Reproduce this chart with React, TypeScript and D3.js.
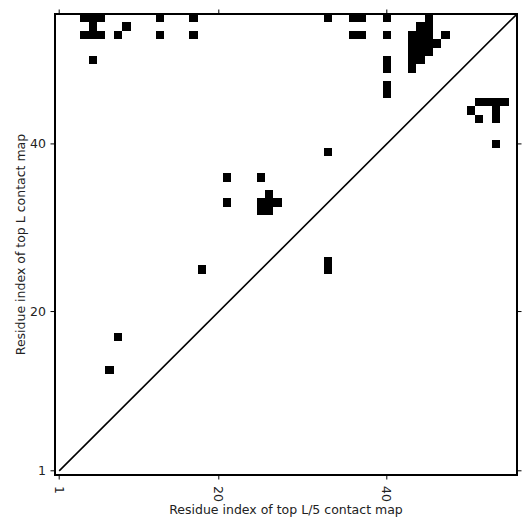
import React from "react";
import * as d3 from "d3";

// contacts as (x = residue on L/5 axis, y = residue on L axis)
const contactX = [
  4, 5, 6, 13, 17, 33, 36, 37, 40, 45,
  5, 9, 44, 45,
  4, 5, 6, 8, 13, 17, 36, 37, 40, 43, 44, 45, 47,
  43, 44, 45, 46,
  43, 44, 45,
  5, 40, 43, 44,
  40, 43,
  40, 40,
  51, 52, 53, 54,
  50, 53,
  51, 53,
  53, 33,
  21, 25, 26, 21, 25, 26, 27, 25, 26,
  18, 33, 33, 8, 7,
];
const contactY = [
  55, 55, 55, 55, 55, 55, 55, 55, 55, 55,
  54, 54, 54, 54,
  53, 53, 53, 53, 53, 53, 53, 53, 53, 53, 53, 53, 53,
  52, 52, 52, 52,
  51, 51, 51,
  50, 50, 50, 50,
  49, 49,
  47, 46,
  45, 45, 45, 45,
  44, 44,
  43, 43,
  40, 39,
  36, 36, 34, 33, 33, 33, 33, 32, 32,
  25, 26, 25, 17, 13,
];

const tickValues = [1, 20, 40];
const domain: [number, number] = [0.5, 55.5];
const diagonal: [number, number][] = [
  [1, 1],
  [56, 56],
];

const W = 531;
const H = 531;
const left = 55;
const right = 517;
const top = 14;
const bottom = 475;

export default function App() {
  const x = d3.scaleLinear().domain(domain).range([left, right]);
  const y = d3.scaleLinear().domain(domain).range([bottom, top]);
  const cw = Math.abs(x(1) - x(0));
  const ch = Math.abs(y(0) - y(1));
  const line = d3
    .line<[number, number]>()
    .x((d) => x(d[0]))
    .y((d) => y(d[1]));
  const font = "DejaVu Sans";
  const tickLen = 4.5;

  return (
    <svg
      width={W}
      height={H}
      style={{ position: "absolute", left: 0, top: 0, background: "#fff" }}
      fontFamily={font}
    >
      <defs>
        <clipPath id="plot">
          <rect x={left} y={top} width={right - left} height={bottom - top} />
        </clipPath>
      </defs>
      <g shapeRendering="crispEdges">
        {contactX.map((cx, i) => (
          <rect
            key={i}
            x={x(cx - 0.5)}
            y={y(contactY[i] + 0.5)}
            width={cw}
            height={ch}
            fill="#000"
          />
        ))}
      </g>
      <path
        d={line(diagonal) || ""}
        stroke="#000"
        strokeWidth={1.6}
        fill="none"
        clipPath="url(#plot)"
      />
      <rect
        x={left}
        y={top}
        width={right - left}
        height={bottom - top}
        fill="none"
        stroke="#000"
        strokeWidth={2}
      />
      {tickValues.map((t) => (
        <g key={"t" + t} stroke="#000" strokeWidth={1}>
          <line x1={x(t)} x2={x(t)} y1={bottom} y2={bottom + tickLen} />
          <line x1={x(t)} x2={x(t)} y1={top} y2={top - tickLen} />
          <line x1={left} x2={left - tickLen} y1={y(t)} y2={y(t)} />
          <line x1={right} x2={right + tickLen} y1={y(t)} y2={y(t)} />
        </g>
      ))}
      {tickValues.map((t) => (
        <text
          key={"yl" + t}
          x={46}
          y={y(t)}
          textAnchor="end"
          dominantBaseline="central"
          fontSize={12.5}
          fill="#222"
        >
          {t}
        </text>
      ))}
      {tickValues.map((t) => (
        <text
          key={"xl" + t}
          transform={`translate(${x(t)},${486}) rotate(90)`}
          textAnchor="start"
          dominantBaseline="central"
          fontSize={12.5}
          fill="#222"
        >
          {t}
        </text>
      ))}
      <text
        x={(left + right) / 2}
        y={514}
        textAnchor="middle"
        fontSize={12.5}
        fill="#222"
      >
        Residue index of top L/5 contact map
      </text>
      <text
        transform={`translate(25,${(top + bottom) / 2}) rotate(-90)`}
        textAnchor="middle"
        fontSize={12.5}
        fill="#222"
      >
        Residue index of top L contact map
      </text>
    </svg>
  );
}
